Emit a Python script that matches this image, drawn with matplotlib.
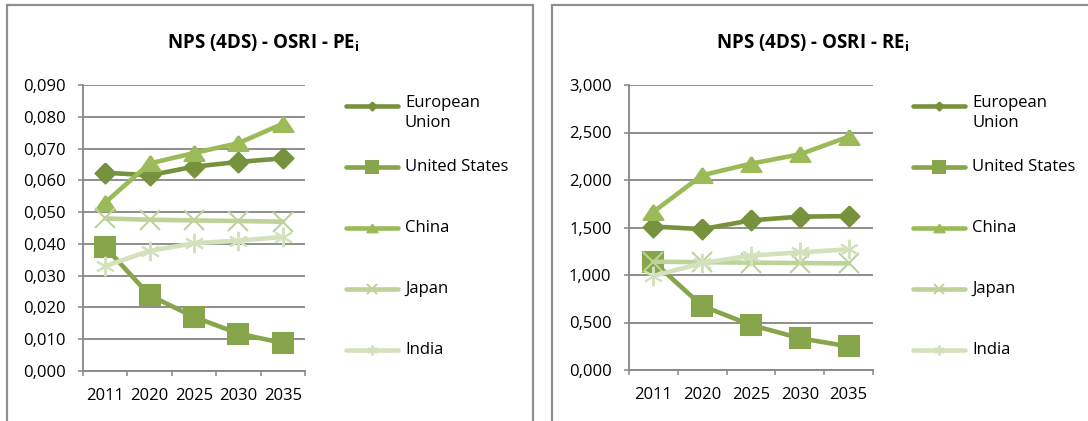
import matplotlib
matplotlib.use("Agg")
import matplotlib.pyplot as plt
from matplotlib.lines import Line2D
from matplotlib.patches import Rectangle
from matplotlib.ticker import FuncFormatter, FixedLocator

plt.rcParams["font.family"] = ["Open Sans", "DejaVu Sans"]
plt.rcParams["mathtext.fontset"] = "custom"
plt.rcParams["mathtext.bf"] = "Open Sans:bold"

# --- données ---
years = ["2011", "2020", "2025", "2030", "2035"]
countries = ["European\nUnion", "United States", "China", "Japan", "India"]

pe_eu = [0.0624, 0.0616, 0.0643, 0.0658, 0.0669]
pe_us = [0.0390, 0.0238, 0.0170, 0.0118, 0.0088]
pe_cn = [0.0530, 0.0653, 0.0686, 0.0717, 0.0778]
pe_jp = [0.0480, 0.0476, 0.0474, 0.0472, 0.0470]
pe_in = [0.0330, 0.0378, 0.0402, 0.0410, 0.0422]

re_eu = [1.510, 1.483, 1.575, 1.614, 1.620]
re_us = [1.140, 0.674, 0.474, 0.335, 0.248]
re_cn = [1.665, 2.050, 2.172, 2.270, 2.456]
re_jp = [1.140, 1.135, 1.130, 1.126, 1.122]
re_in = [0.990, 1.125, 1.205, 1.238, 1.270]

pe_ticks = [0.00, 0.01, 0.02, 0.03, 0.04, 0.05, 0.06, 0.07, 0.08, 0.09]
re_ticks = [0.0, 0.5, 1.0, 1.5, 2.0, 2.5, 3.0]

# --- styles ---
COLORS = ["#76923C", "#87A54A", "#9BBB59", "#BDD39A", "#D3E1BC"]
DIAMOND = [(0, 1), (1, 0), (0, -1), (-1, 0), (0, 1)]
TRIANGLE = [(0, 0.75), (1, -0.75), (-1, -0.75), (0, 0.75)]
MARKERS = [DIAMOND, "s", TRIANGLE, "x", (6, 2, 0)]
MSIZE = [14.4, 14.4, 14.4, 14, 14]
LEG_MSIZE = [6, 8.5, 7.5, 7, 7]
GRID = "#868686"
PX = 72 / 100  # points par pixel


def fmt(v, _):
    return f"{v:.3f}".replace(".", ",")


def draw_panel(fig, rect, series, ticks, title, title_x, leg_x):
    ax = fig.add_axes(rect)
    x = range(len(years))
    for i, vals in enumerate(series):
        ax.plot(x, vals, color=COLORS[i], lw=3.3, marker=MARKERS[i],
                ms=MSIZE[i], mfc=COLORS[i], mec=COLORS[i], mew=1.5,
                solid_capstyle="round", solid_joinstyle="round", zorder=3 + i,
                clip_on=False)
    ax.set_xlim(-0.5, len(years) - 0.5)
    ax.set_ylim(ticks[0], ticks[-1])
    ax.set_yticks(ticks)
    ax.yaxis.set_major_formatter(FuncFormatter(fmt))
    ax.set_xticks(list(x))
    ax.set_xticklabels(years)
    ax.xaxis.set_minor_locator(FixedLocator([k - 0.5 for k in range(len(years) + 1)]))
    ax.tick_params(axis="x", which="major", length=0, pad=12, labelsize=12)
    ax.tick_params(axis="x", which="minor", length=5 * PX, width=1.1, color=GRID,
                   direction="out")
    ax.tick_params(axis="y", length=5 * PX, width=1.1, color=GRID, pad=9, labelsize=12)
    ax.grid(axis="y", color=GRID, lw=1.3, zorder=0)
    ax.set_axisbelow(True)
    for s in ("top", "right"):
        ax.spines[s].set_visible(False)
    for s in ("left", "bottom"):
        ax.spines[s].set_color(GRID)
        ax.spines[s].set_linewidth(1.3)

    fig.text(title_x / 1088, 1 - 43 / 421, title, ha="center", va="center",
             fontsize=13.5, fontweight="bold")

    # légende manuelle (une entrée tous les 61 px)
    for i, name in enumerate(countries):
        yy = 1 - (106 + 61 * i) / 421
        x0, x1 = leg_x / 1088, (leg_x + 52) / 1088
        fig.add_artist(Line2D([x0, x1], [yy, yy], color=COLORS[i], lw=3.3,
                              solid_capstyle="round", transform=fig.transFigure))
        fig.add_artist(Line2D([(x0 + x1) / 2], [yy], color=COLORS[i],
                              marker=MARKERS[i], ms=LEG_MSIZE[i], mfc=COLORS[i],
                              mec=COLORS[i], mew=1.4, transform=fig.transFigure))
        multi = "\n" in name
        fig.text((leg_x + 59) / 1088, yy + (11 / 421 if multi else 0), name,
                 ha="left", va="top" if multi else "center",
                 fontsize=12, linespacing=1.3)
    return ax


fig = plt.figure(figsize=(10.88, 4.21), dpi=100)
fig.patch.set_facecolor("white")

# cadres des deux graphiques
for x0, x1 in ((7, 533), (552, 1100)):
    fig.add_artist(Rectangle((x0 / 1088, -0.05), (x1 - x0) / 1088, 1.05 - 5 / 421,
                             transform=fig.transFigure, fill=False,
                             ec="#8f8f8f", lw=1.6))

draw_panel(fig, [83 / 1088, 50 / 421, 222 / 1088, 286 / 421],
           [pe_eu, pe_us, pe_cn, pe_jp, pe_in], pe_ticks,
           r"NPS (4DS) - OSRI - PE$_\mathbf{i}$", 263, 346)
draw_panel(fig, [629 / 1088, 51 / 421, 244 / 1088, 285 / 421],
           [re_eu, re_us, re_cn, re_jp, re_in], re_ticks,
           r"NPS (4DS) - OSRI - RE$_\mathbf{i}$", 813, 913)

fig.savefig("out.png", dpi=100, facecolor="white")
